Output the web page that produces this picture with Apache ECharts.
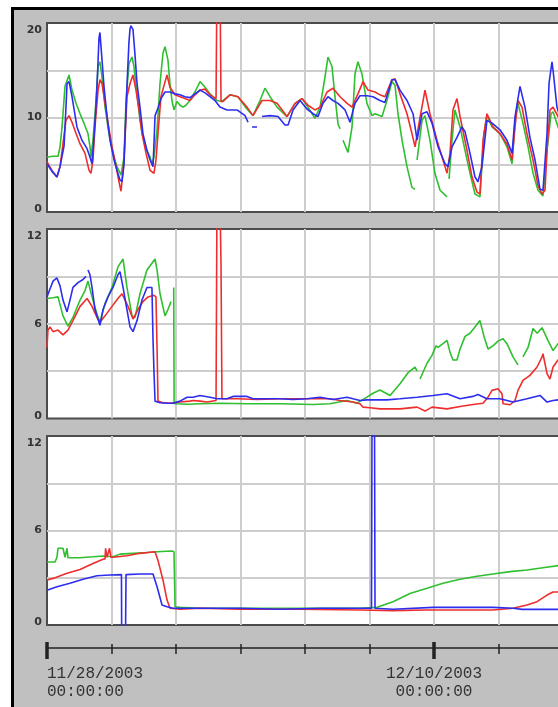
<!DOCTYPE html>
<html><head><meta charset="utf-8">
<script src="https://cdn.jsdelivr.net/npm/echarts@6/dist/echarts.min.js"></script>
<style>html,body{margin:0;padding:0;background:#fff}#c{width:558px;height:707px}</style>
</head><body><div id="c"></div>
<script>
// time axis: hours since 11/28/2003 00:00:00
const startUTC = Date.UTC(2003, 10, 28, 0, 0, 0);
const xMaxHours = 408;
const panelYMax = [20, 12, 12];
const panelYStep = [5, 3, 3];

// Panel 1
const p1Green = [[0,5.8],[3.7,5.9],[8.2,5.9],[9.7,6.9],[11.2,9],[13.4,13.3],[16.4,14.5],[18.6,12.9],[21.6,11.5],[24.6,10.4],[27.5,9.4],[30.5,8.3],[32.0,6.9],[32.7,5.8],[34.2,7.6],[36.5,11.8],[38.0,15.4],[39.4,15.9],[40.9,14.3],[43.2,11.1],[46.1,8.3],[49.1,6.2],[52.1,4.8],[55.1,3.9],[57.3,5.8],[58.8,11.8],[61.0,15.7],[63.3,16.4],[64.7,15.4],[67.0,12.5],[69.2,9.7],[71.4,7.9],[74.4,6.5],[76.7,5.8],[78.1,5.1],[79.6,5.8],[81.9,8.7],[84.1,13.6],[86.3,16.8],[87.8,17.5],[90.0,16.1],[91.5,13.6],[93.0,11.8],[94.5,10.8],[96.7,11.7],[99.0,11.3],[101.2,11.1],[103.4,11.3],[106.4,11.8],[110.1,12.7],[113.9,13.8],[117.6,13.2],[121.3,12.5],[126.5,11.8],[130.2,11.7],[136.2,12.4],[142.1,12.2],[148.8,10.9],[153.3,10.2],[158.5,11.8],[162.2,13.1],[166.0,12.2],[171.2,11.1],[178.6,10.1],[184.6,11.5],[189.8,12],[194.2,11.1],[199.4,9.9],[203.2,11.1],[206.9,14.3],[209.1,16.4],[212.1,15.4],[214.3,12.2],[216.6,9.3],[218.1,8.8],[219,null],[220.3,7.6],[224.0,6.3],[227.0,9],[229.2,14.6],[231.4,15.9],[234.4,14.6],[238.1,11.5],[241.9,10.2],[244.1,10.4],[249.3,10.1],[253.0,11.8],[256.7,13.8],[259.0,13.4],[261.2,10.4],[264.2,7.6],[267.9,4.8],[271.6,2.6],[273.9,2.4],[274.5,null],[275.4,5.5],[279.1,9.7],[281.3,10.2],[285.0,7.6],[288.7,4.1],[292.5,2.3],[297.7,1.6],[298.5,null],[299.2,3.5],[301.4,7.6],[303.6,10.8],[307.4,9],[311.1,6.5],[314.8,4.1],[318.5,1.9],[322.2,1.6],[325.2,8.3],[327.4,10.2],[331.2,9],[337.1,8.3],[342.3,6.9],[346.1,5.1],[348.3,9.7],[350.5,11.5],[354.2,9.4],[358.0,6.9],[361.7,4.1],[365.4,2.3],[369.1,1.7],[372.1,6.5],[375.1,10.4],[376.6,10.6],[380.3,9],[383.3,8]];
const p1Red = [[0,5.3],[3.7,4.4],[7.4,3.7],[9.7,4.8],[11.9,7.2],[14.1,9.7],[16.4,10.2],[18.6,9.5],[21.6,8.3],[24.6,7.2],[28.3,6.2],[31.3,4.4],[32.7,4.1],[34.2,5.5],[35.7,9],[38.0,12.9],[39.4,14],[40.9,13.6],[43.2,11.5],[45.4,9.4],[48.4,6.9],[51.4,4.8],[54.3,2.7],[55.1,2.2],[57.3,5.5],[59.5,12.2],[61.8,13.6],[64.0,14.5],[66.2,12.9],[68.5,10.8],[70.7,8.3],[73.7,6.2],[76.7,4.4],[79.6,4.1],[81.1,5.5],[82.6,8.3],[84.8,12.2],[87.1,13.4],[89.3,14.5],[91.5,13.2],[95.3,12.4],[99.0,12.2],[102.7,12],[106.4,11.8],[110.1,12.4],[113.9,12.9],[117.6,13],[121.3,12.4],[125.8,12],[126.5,25],[128.7,25],[129.5,11.7],[131.0,11.7],[136.2,12.4],[142.1,12.2],[148.8,11.1],[153.3,10.2],[160.0,11.8],[166.0,11.8],[171.2,11.5],[178.6,10.1],[184.6,11.5],[189.8,12],[194.2,11.3],[199.4,10.8],[203.2,11.1],[208.4,12.7],[212.8,13.1],[218.1,12.2],[223.3,11.5],[227.0,11.1],[231.4,12.5],[235.2,13.8],[238.9,12.9],[244.1,12.7],[247.8,12.4],[251.5,12.2],[256.7,14],[259.0,14.1],[262.7,12.5],[267.9,10.4],[271.6,8.3],[273.9,6.9],[277.6,10],[281.3,12.9],[285.0,10.4],[290.2,7.6],[294.7,5.5],[297.7,4.1],[299.9,6.2],[302.1,10.8],[305.1,12],[307.4,10.1],[312.6,6.5],[316.3,3.7],[320.0,2.1],[322.2,1.9],[324.5,7.6],[327.4,10.4],[331.9,9],[337.1,8.3],[342.3,7.2],[346.1,5.5],[348.3,9],[350.5,11.8],[353.5,11.1],[357.2,8.3],[361.7,5.5],[365.4,2.8],[368.4,1.9],[370.6,2.3],[372.1,6.5],[374.3,10.8],[376.6,11.1],[380.3,10.1],[383.3,9.5]];
const p1Blue = [[0,5.1],[3.7,4.3],[7.4,3.7],[9.7,4.8],[12.7,7],[14.1,11],[14.9,13.6],[16.4,13.8],[18.6,12.2],[22.3,9.0],[26.0,7.6],[29.8,6.7],[32.0,5.8],[33.5,5.1],[35.7,9.4],[37.2,13.3],[38.7,18.4],[39.4,19.0],[40.2,17.5],[42.4,13.3],[44.7,10.1],[46.9,7.6],[49.9,5.5],[52.1,4.4],[54.3,3.4],[55.8,3.2],[57.3,5],[59.5,13.3],[61.0,18],[61.8,19.4],[62.5,19.7],[64.0,19.3],[65.5,16.6],[67.0,13.6],[69.2,11.1],[71.4,8.3],[74.4,6.5],[76.7,5.5],[78.9,4.8],[79.6,7.2],[80.4,10.2],[82.6,11],[84.8,12],[87.8,12.7],[91.5,12.7],[95.3,12.5],[99.0,12.4],[102.7,12.2],[106.4,12.1],[110.1,12.5],[113.9,12.9],[117.6,12.6],[121.3,12.2],[125.0,11.8],[128.7,11.1],[134.0,10.8],[141.4,10.8],[147.4,10.2],[149.6,9.5],[150.5,null],[152.6,9.0],[156.3,9.0],[158,null],[160.0,10.1],[166.0,10.2],[171.9,10.1],[177.1,9.2],[179.4,9.2],[183.1,10.8],[188.3,11.8],[193.5,10.9],[198.0,10.4],[201.7,10.1],[205.4,11.5],[209.1,12.2],[212.8,11.8],[216.6,11.5],[221.8,10.8],[225.5,9.5],[229.2,11.5],[232.9,12.3],[238.1,12.3],[242.6,12.2],[247.8,11.8],[251.5,11.6],[256.7,14],[259.0,14],[262.7,12.9],[267.9,11.8],[272.4,10.4],[275.4,7.6],[279.1,10.4],[282.8,10.6],[286.5,9.4],[291.0,6.9],[296.2,5.1],[298.4,4.8],[301.4,6.9],[305.1,7.9],[308.8,9],[311.1,8.5],[314.8,6.2],[318.5,3.7],[320.7,3.2],[323.7,4.8],[327.4,9.7],[331.2,9.4],[337.1,8.7],[342.3,7.6],[346.1,6.2],[348.3,10.1],[352.0,13.3],[355.7,11.1],[359.4,7.9],[363.2,5.5],[366.9,2.4],[369.1,2.3],[372.1,8.3],[373.6,13.6],[375.8,15.9],[376.6,15],[379.5,11.1],[381.8,10]];

// Panel 2
const p2Green = [[0,7.6],[4.5,7.65],[8.2,7.7],[11.9,6.5],[15.6,5.85],[19.3,6.4],[24.6,7.5],[28.3,8.1],[30.5,8.7],[33.5,7.7],[37.2,6.6],[39.4,6.1],[43.2,7.3],[48.4,8.3],[52.8,9.6],[56.6,10.1],[59.5,8.3],[63.3,6.5],[65.5,6.4],[69.2,7.9],[74.4,9.4],[80.4,10.1],[81.9,9.4],[84.1,7.9],[87.8,6.5],[90.0,6.9],[92.3,7.4],[93.0,null],[94.3,8.3],[94.6,0.95],[96.7,0.93],[104.2,0.9],[113.9,0.93],[128.7,0.97],[148.8,0.93],[173.4,0.93],[198.0,0.89],[210.6,0.93],[223.3,1.14],[230.7,0.97],[238.1,1.35],[242.6,1.6],[247.8,1.8],[255.3,1.46],[262.7,2.2],[268.7,2.9],[273.9,3.26],[275.4,3.0],[276.5,null],[277.6,2.5],[282.8,3.5],[286.5,4.0],[289.5,4.6],[291.0,4.5],[294.7,4.74],[297.7,4.95],[299.9,4.2],[302.1,3.7],[305.1,3.7],[307.4,4.4],[311.1,5.2],[314.8,5.4],[318.5,5.8],[322.2,6.2],[325.2,5.2],[328.2,4.4],[331.9,4.6],[335.6,4.9],[339.4,5.05],[342.3,4.74],[346.8,3.9],[350.5,3.4],[352,null],[354.2,3.9],[358.0,4.5],[361.7,5.7],[364.7,5.4],[368.4,5.75],[372.8,4.95],[376.6,4.3],[380.3,4.74],[383.3,4.9]];
const p2Red = [[0,4.5],[0.7,5.6],[2.2,5.8],[4.5,5.5],[8.2,5.6],[11.9,5.3],[15.6,5.6],[19.3,6.2],[24.6,7.1],[29.8,7.6],[33.5,7.1],[37.2,6.4],[39.4,6.1],[43.2,6.5],[48.4,7.1],[52.8,7.6],[55.8,7.9],[60.3,7.1],[64.0,6.3],[67.7,6.9],[71.4,7.4],[75.2,7.7],[79.6,7.8],[81.1,7.7],[81.9,4.5],[82.6,1.1],[86.3,1.0],[91.5,0.97],[99.0,1.04],[106.4,1.1],[108.7,1.14],[113.9,1.1],[119.1,1.04],[125.8,1.14],[126.5,14],[128.7,14],[129.5,9.7],[130.2,1.25],[142.1,1.25],[156.3,1.2],[173.4,1.25],[193.5,1.25],[210.6,1.25],[218.1,1.14],[227.7,1.04],[232.9,0.93],[235.2,0.72],[240.4,0.68],[247.8,0.61],[262.7,0.61],[275.4,0.72],[281.3,0.47],[286.5,0.72],[297.7,0.61],[307.4,0.76],[317.0,0.89],[324.5,0.97],[328.2,1.35],[331.2,1.78],[335.6,1.88],[338.6,1.57],[339.4,0.93],[344.6,0.87],[348.3,1.14],[350.5,1.78],[354.2,2.41],[359.4,2.73],[364.7,3.26],[368.4,3.9],[369.1,4.1],[372.1,2.84],[374.3,2.5],[376.6,3.26],[380.3,3.7],[383.3,3.8]];
const p2Blue = [[0,7.7],[2.2,8.2],[4.5,8.7],[7.4,8.9],[9.7,8.4],[11.9,7.5],[14.9,6.75],[17.1,7.5],[19.3,8.3],[23.1,8.6],[26.8,8.8],[29.0,9.0],[29.7,null],[30.5,9.4],[32.0,9.1],[33.5,8.3],[35.7,6.9],[39.4,5.9],[41.7,6.9],[45.4,7.7],[49.1,8.3],[52.8,9.1],[54.3,9.3],[56.6,8.3],[59.5,6.9],[61.8,5.8],[64.0,5.5],[67.0,6.2],[70.7,7.5],[74.4,8.3],[78.1,8.3],[78.9,5.0],[79.6,3],[80.4,1.1],[84.1,1.0],[89.3,0.97],[93.8,0.97],[99.0,1.1],[104.2,1.35],[108.7,1.35],[113.9,1.46],[121.3,1.35],[126.5,1.25],[134.0,1.25],[138.4,1.4],[148.8,1.4],[153.3,1.25],[163.7,1.25],[173.4,1.25],[183.1,1.2],[193.5,1.25],[198.0,1.3],[203.2,1.35],[212.8,1.2],[223.3,1.35],[227.7,1.25],[232.9,1.14],[238.1,1.18],[242.6,1.18],[253.0,1.18],[262.7,1.25],[275.4,1.35],[287.3,1.46],[297.7,1.57],[307.4,1.25],[317.0,1.4],[320.7,1.52],[327.4,1.25],[337.1,1.25],[346.8,1.04],[357.2,1.25],[366.9,1.46],[372.1,1.04],[376.6,1.14],[380.3,1.18],[383.3,1.2]];

// Panel 3
const p3Green = [[0,4.0],[6.0,4.0],[7.4,4.3],[8.2,4.87],[11.9,4.87],[13.4,4.3],[14.1,4.3],[14.9,4.87],[15.6,4.27],[24.6,4.27],[34.2,4.33],[41.7,4.38],[49.1,4.33],[54.3,4.5],[64.0,4.55],[74.4,4.6],[81.9,4.65],[93.0,4.7],[94.5,4.65],[95.3,1.16],[99.0,1.12],[113.9,1.06],[143.6,1.06],[173.4,1.06],[203.2,1.06],[232.9,1.06],[245.6,1.12],[257.5,1.48],[270.1,2.0],[282.8,2.33],[294.7,2.65],[307.4,2.9],[320.0,3.1],[331.9,3.24],[344.6,3.39],[357.2,3.49],[369.1,3.64],[380.3,3.77],[383.3,3.8]];
const p3Red = [[0,2.86],[4.5,2.96],[14.9,3.28],[24.6,3.53],[34.2,3.9],[41.7,4.17],[43.2,4.2],[43.6,4.87],[44.3,4.87],[44.7,4.3],[46.1,4.3],[46.5,4.87],[47.2,4.87],[47.6,4.3],[49.1,4.3],[59.5,4.4],[69.2,4.55],[80.4,4.65],[82.6,4.1],[86.3,2.86],[89.3,1.6],[91.5,1.06],[99.0,1.0],[113.9,1.06],[143.6,1.0],[188.3,1.0],[232.9,0.95],[257.5,0.91],[282.8,0.95],[307.4,0.95],[331.9,0.95],[346.8,1.06],[357.2,1.27],[364.7,1.48],[372.1,1.9],[376.6,2.1],[380.3,2.1],[383.3,2.2]];
const p3Blue = [[0,2.2],[7.4,2.43],[17.1,2.65],[26.8,2.9],[37.2,3.13],[46.9,3.17],[55.4,3.2],[55.6,-1],[58.4,-1],[58.8,3.2],[69.2,3.24],[78.9,3.24],[81.9,2.43],[85.6,1.27],[89.3,1.16],[93.8,1.06],[113.9,1.06],[143.6,1.06],[173.4,1.0],[203.2,1.06],[232.9,1.06],[241.5,1.06],[241.9,14],[243.7,14],[244.1,1.06],[257.5,1.0],[287.3,1.12],[307.4,1.12],[331.9,1.12],[346.8,1.06],[353.5,0.99],[380.3,0.99],[383.3,1.0]];

const panels = [
  {green: p1Green, red: p1Red, blue: p1Blue},
  {green: p2Green, red: p2Red, blue: p2Blue},
  {green: p3Green, red: p3Red, blue: p3Blue}
];

const COLORS = {green: '#2fbf2f', red: '#ef2d2d', blue: '#2d2def'};
const gridLeft = 47, pxPerHour = 64.5 / 48;
const gridW = xMaxHours * pxPerHour;
const panelBoxes = [{top: 23, height: 189}, {top: 229, height: 189.5}, {top: 436, height: 189}];

function pad(n){return String(n).padStart(2,'0');}
function dateLabel(v){
  if (v % 288 !== 0) return '';
  const d = new Date(startUTC + v * 3600000);
  return pad(d.getUTCMonth()+1)+'/'+pad(d.getUTCDate())+'/'+d.getUTCFullYear()+'\n'+
         pad(d.getUTCHours())+':'+pad(d.getUTCMinutes())+':'+pad(d.getUTCSeconds());
}
const labFont = {fontSize: 11, fontWeight: 'bold', color: '#333', fontFamily: 'DejaVu Sans'};

const grid = [], xAxis = [], yAxis = [], series = [];
panelBoxes.forEach((b, i) => {
  grid.push({left: gridLeft, top: b.top, width: gridW, height: b.height, show: true, outerBoundsMode: 'none', containLabel: false,
    backgroundColor: '#ffffff', borderColor: '#4c4c4c', borderWidth: 2});
  xAxis.push({gridIndex: i, type: 'value', min: 0, max: xMaxHours, interval: 48,
    axisLine: {show: false}, axisTick: {show: false}, axisLabel: {show: false},
    splitLine: {show: true, showMinLine: false, showMaxLine: false, lineStyle: {color: '#cdcdcd', width: 2}}});
  const mx = panelYMax[i];
  yAxis.push({gridIndex: i, type: 'value', min: 0, max: mx, interval: panelYStep[i],
    axisLine: {show: false}, axisTick: {show: false},
    splitLine: {show: true, showMinLine: false, showMaxLine: false, lineStyle: {color: '#cdcdcd', width: 2}},
    axisLabel: Object.assign({margin: 5, formatter: v => v === mx ? '{mx|'+v+'}' : v === 0 ? '{mn|0}' : v === mx/2 ? '{n|'+v+'}' : '',
      rich: {mx: Object.assign({padding: [15,0,0,0]}, labFont), mn: Object.assign({padding: [0,0,5,0]}, labFont), n: Object.assign({}, labFont)}}, labFont)});
  ['green','red','blue'].forEach(k => {
    series.push({type: 'line', xAxisIndex: i, yAxisIndex: i, data: panels[i][k], showSymbol: false, symbol: 'none',
      connectNulls: false, clip: true, lineStyle: {color: COLORS[k], width: 1.6}, itemStyle: {color: COLORS[k]}, animation: false});
  });
});

// time ruler: four overlaid axes (small/big ticks, up/down)
const rulerSpecs = [
  {interval: 48, inside: false, len: 6, w: 1.5, line: true, label: false},
  {interval: 48, inside: true, len: 4, w: 1.5, line: false, label: false},
  {interval: 288, inside: false, len: 11, w: 3.5, line: false, label: true},
  {interval: 288, inside: true, len: 6, w: 3.5, line: false, label: false}
];
rulerSpecs.forEach((s, j) => {
  const gi = 3 + j;
  grid.push({left: gridLeft, top: 640, width: gridW, height: 8, show: false, outerBoundsMode: 'none', containLabel: false});
  yAxis.push({gridIndex: gi, type: 'value', show: false});
  xAxis.push({gridIndex: gi, type: 'value', min: 0, max: xMaxHours, interval: s.interval, position: 'bottom',
    axisLine: {show: s.line, lineStyle: {color: '#222', width: 1.5}},
    axisTick: {show: true, inside: s.inside, length: s.len, lineStyle: {color: '#222', width: s.w}},
    splitLine: {show: false},
    axisLabel: {show: s.label, formatter: dateLabel, margin: 17, color: '#333', fontFamily: 'Liberation Mono',
      fontSize: 16, lineHeight: 18, alignMinLabel: 'left', showMaxLabel: false}});
});

const chart = echarts.init(document.getElementById('c'), null, {renderer: 'canvas'});
chart.setOption({
  animation: false,
  backgroundColor: '#ffffff',
  graphic: [{type: 'rect', z: -100, silent: true, shape: {x: 12.5, y: 8.5, width: 700, height: 800},
    style: {fill: '#c0c0c0', stroke: '#000000', lineWidth: 3}}],
  grid, xAxis, yAxis, series
});
</script></body></html>
